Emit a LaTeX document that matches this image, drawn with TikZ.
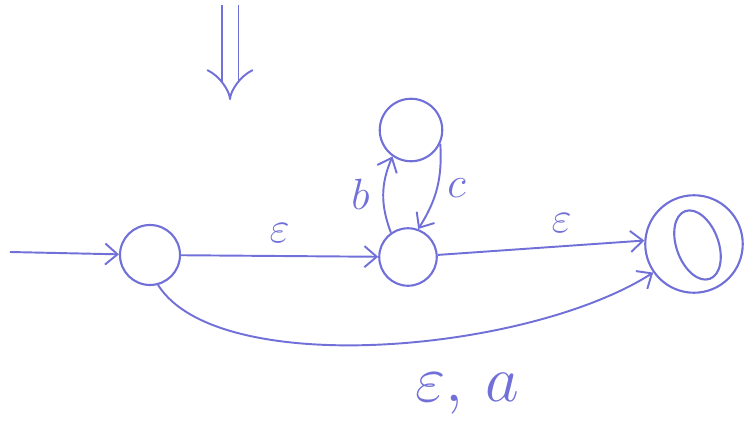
\documentclass[tikz,border=0pt]{standalone}
\usepackage{amsmath,amssymb}
\usepackage{tikz}
\usetikzlibrary{arrows.meta,positioning}
\definecolor{PenBlue}{HTML}{7070D8}
\tikzset{
  state/.style={circle,draw=PenBlue,line width=1.2pt,minimum size=1.2cm,inner sep=0pt},
  edge/.style={draw=PenBlue,line width=1.1pt,-{Straight Barb[length=7pt,width=12pt]}},
  lbl/.style={text=PenBlue,font=\Huge}
}

\begin{document}
\begin{tikzpicture}
  \useasboundingbox (0,0) rectangle (14.88,8.6);
  % states
  \node[state] (q0) at (3.0,3.5) {};
  \node[state,minimum size=1.15cm] (q1) at (8.16,3.46) {};
  \node[state,minimum size=1.25cm] (q2) at (8.22,6.0) {};
  \node[state,minimum size=1.95cm] (q3) at (13.88,3.72) {};
  \draw[PenBlue,line width=1.2pt,rotate around={20:(13.95,3.7)}] (13.95,3.7) ellipse (0.42cm and 0.72cm);
  \coordinate (start) at (0.2,3.56);
  \coordinate (top1) at (4.6,8.5);
  \coordinate (top2) at (4.6,6.6);
  % entry
  \draw[PenBlue,line width=1.1pt,double,double distance=0.3cm,-{Implies}] (top1) -- (top2);
  \draw[edge] (start) -- (q0);
  % transitions
  \draw[edge] (q0) -- (q1) node[lbl,midway,above=4pt] {$\varepsilon$};
  \draw[edge] (q1.125) to[bend left=22] node[lbl,left=4pt] {$b$} (q2.-125);
  \draw[edge] (q2.-25) to[bend left=18] node[lbl,right=2pt] {$c$} (q1.70);
  \draw[edge] (q1) -- (q3.176) node[lbl,pos=0.6,above=4pt] {$\varepsilon$};
  \draw[edge] (q0.-75) .. controls +(1.2,-1.9) and +(-2.5,-1.6) .. (q3.-145);
  \node[lbl] (ea) at (9.35,0.72) {\scalebox{1.5}{$\varepsilon,\,a$}};
\end{tikzpicture}
\end{document}
